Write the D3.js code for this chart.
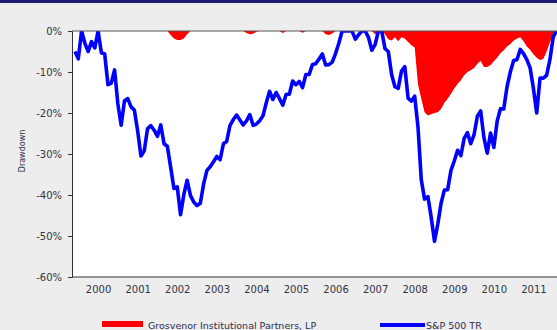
<!DOCTYPE html>
<html><head><meta charset="utf-8">
<script src="https://cdn.jsdelivr.net/npm/d3@7"></script>
<style>html,body{margin:0;padding:0;background:#ededed;overflow:hidden}</style>
</head><body><svg id="c" width="557" height="330"></svg>
<script>
// ---- data ----
const years = ["2000","2001","2002","2003","2004","2005","2006","2007","2008","2009","2010","2011"];
const startYear = 2000; // month index 0 = Jan 2000
const seriesNames = ["Grosvenor Institutional Partners, LP", "S&P 500 TR"];
const yTicks = [0, -10, -20, -30, -40, -50, -60];

// monthly drawdown (%), Jan 2000 .. Mar 2012
const grosvenor = [
  0,0,0,0,0,0,0,0,0,0,0,0,
  0,0,0,0,0,0,0,0,0,0,0,0,
  0,0,0,0,0,-1.0,-1.8,-2.2,-2.2,-1.8,-0.8,0,
  0,0,0,0,0,0,0,0,0,0,0,0,
  0,0,0,0,-0.5,-0.8,-0.7,-0.2,0,0,0,0,
  0,0,0,-0.5,0,0,0,0,0,-0.4,0,0,
  0,0,0,0,-0.8,-1.0,-0.6,0,0,0,0,0,
  0,0,0,0,0,0,0,-0.8,-0.5,0,-0.8,-2.0,
  -2.3,-1.5,-2.5,-1.5,-1.8,-2.7,-3.5,-4.0,-13.0,-16.5,-19.8,-20.6,
  -20.3,-20.0,-19.8,-19.0,-17.5,-16.5,-15.3,-14.0,-12.9,-12.0,-10.8,-10.0,
  -9.6,-9.0,-8.0,-7.3,-8.8,-8.8,-8.3,-7.4,-6.5,-5.4,-4.7,-3.8,
  -3.2,-2.4,-1.8,-1.5,-2.5,-3.8,-4.6,-5.7,-6.5,-7.1,-6.8,-5.0,
  -2.8,-0.8,0
];
const sp500 = [
  -5.0,-6.8,0,-3.0,-5.0,-2.6,-4.1,0,-5.3,-5.6,-13.1,-12.7,
  -9.5,-17.8,-23.0,-17.0,-16.5,-18.5,-19.3,-24.4,-30.5,-29.2,-23.8,-23.1,
  -24.2,-25.7,-22.9,-27.5,-28.1,-33.2,-38.4,-38.0,-44.8,-39.9,-36.4,-40.1,
  -41.7,-42.6,-42.0,-37.3,-34.0,-33.1,-31.9,-30.6,-31.4,-27.5,-26.9,-23.0,
  -21.6,-20.5,-21.7,-22.9,-21.9,-20.4,-23.0,-22.7,-21.9,-20.7,-17.5,-14.7,
  -16.7,-15.0,-16.5,-18.1,-15.5,-15.4,-12.2,-13.1,-12.3,-13.8,-10.6,-10.6,
  -8.2,-8.0,-6.8,-5.6,-8.3,-8.2,-7.6,-5.5,-3.0,0,0,0,
  0,-2.0,-0.9,0,0,-1.6,-4.7,-3.3,0,0,-4.3,-5.0,
  -10.6,-13.6,-14.0,-9.8,-8.7,-16.4,-17.1,-15.9,-23.4,-36.3,-41.0,-40.4,
  -45.4,-51.3,-47.1,-42.0,-38.8,-38.7,-34.0,-31.7,-29.1,-30.4,-26.2,-24.8,
  -27.5,-25.3,-20.8,-19.5,-26.0,-29.8,-24.9,-28.4,-22.0,-19.0,-19.0,-13.6,
  -10.0,-7.2,-7.0,-4.5,-5.5,-7.0,-9.0,-14.0,-20.0,-11.5,-11.5,-10.8,
  -7.0,-1.5,0
];

// ---- drawing ----
const svg = d3.select("#c");
const P = {left: 72, top: 31, bottom: 277, right: 562};
const x = d3.scaleLinear().domain([0, 146]).range([75, 556.5]);
const y = d3.scaleLinear().domain([-60, 0]).range([P.bottom, P.top]);
const font = "'DejaVu Sans', Verdana, sans-serif";

svg.append("rect").attr("width", 557).attr("height", 330).attr("fill", "#ededed");
svg.append("rect").attr("width", 557).attr("height", 3).attr("fill", "#1b1b72");

svg.append("rect").attr("x", P.left).attr("y", P.top)
  .attr("width", P.right - P.left).attr("height", P.bottom - P.top).attr("fill", "#ffffff");

svg.append("clipPath").attr("id", "clip").append("rect")
  .attr("x", P.left).attr("y", P.top).attr("width", P.right - P.left).attr("height", P.bottom - P.top);

const g = svg.append("g").attr("clip-path", "url(#clip)");

const area = d3.area().x((d, i) => x(i)).y0(y(0)).y1(d => y(d));
g.append("path").datum(grosvenor).attr("d", area).attr("fill", "#ff0000");

const line = d3.line().x((d, i) => x(i)).y(d => y(d));
g.append("path").datum(sp500).attr("d", line).attr("fill", "none")
  .attr("stroke", "#0000ff").attr("stroke-width", 3.6).attr("stroke-linejoin", "round");

// frame lines
svg.append("line").attr("x1", P.left).attr("x2", 557).attr("y1", P.top).attr("y2", P.top)
  .attr("stroke", "#555").attr("stroke-width", 1);
svg.append("line").attr("x1", P.left).attr("x2", 557).attr("y1", P.bottom).attr("y2", P.bottom)
  .attr("stroke", "#333").attr("stroke-width", 1);

// y axis
const yAxis = d3.axisLeft(y).tickValues(yTicks).tickSize(4).tickPadding(6)
  .tickFormat(d => d + "%");
const ya = svg.append("g").attr("transform", `translate(${P.left},0)`).call(yAxis);
ya.select(".domain").attr("stroke", "#333");
ya.selectAll(".tick line").attr("stroke", "#333");
ya.selectAll(".tick text").attr("font-family", font).attr("font-size", 10).attr("fill", "#333344");

// x labels (year labels centred in each year)
const xAxis = d3.axisBottom(x).tickValues(years.map((yr, k) => (+yr - startYear) * 12 + 7))
  .tickSize(0).tickPadding(9).tickFormat((d) => years[Math.floor(d / 12)]);
const xa = svg.append("g").attr("transform", `translate(0,${P.bottom})`).call(xAxis);
xa.select(".domain").remove();
xa.selectAll(".tick text").attr("font-family", font).attr("font-size", 10).attr("fill", "#333344");

// y title
svg.append("text").attr("transform", "translate(25,151) rotate(-90)")
  .attr("text-anchor", "middle").attr("font-family", font).attr("font-size", 8)
  .attr("fill", "#333344").text("Drawdown");

// legend
svg.append("rect").attr("x", 102).attr("y", 321).attr("width", 41).attr("height", 6).attr("fill", "#ff0000");
svg.append("text").attr("x", 148).attr("y", 329).attr("font-family", font).attr("font-size", 9.5)
  .attr("fill", "#2c2c50").text(seriesNames[0]);
svg.append("line").attr("x1", 380).attr("x2", 425).attr("y1", 325).attr("y2", 325)
  .attr("stroke", "#0000ff").attr("stroke-width", 4);
svg.append("text").attr("x", 426).attr("y", 329).attr("font-family", font).attr("font-size", 9.5)
  .attr("fill", "#2c2c50").text(seriesNames[1]);
</script></body></html>
